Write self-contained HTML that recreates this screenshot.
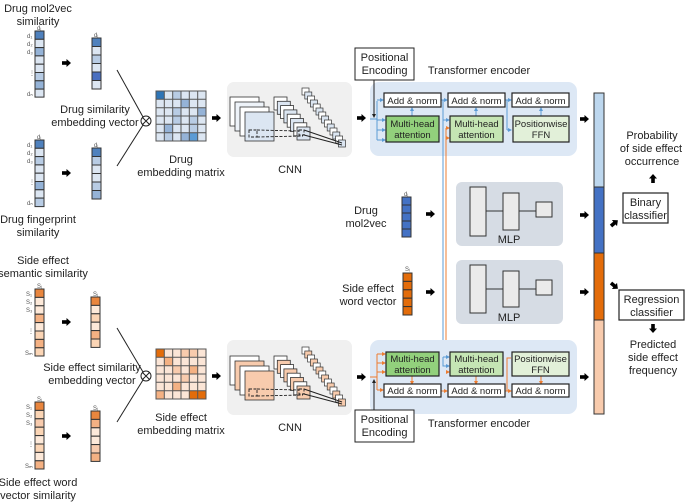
<!DOCTYPE html>
<html><head><meta charset="utf-8"><style>
html,body{margin:0;padding:0;background:#fff}
svg{display:block}
text{font-family:"Liberation Sans",Arial,sans-serif;fill:#222}
.t{font-size:11px;text-anchor:middle}
.s{font-size:9.5px;text-anchor:middle}
.l{font-size:6px;fill:#555}
</style></head><body>
<svg width="685" height="502" viewBox="0 0 685 502" xmlns="http://www.w3.org/2000/svg">
<defs>
<marker id="ab" markerWidth="4" markerHeight="4" refX="3" refY="2" orient="auto"><path d="M0,0L4,2L0,4z" fill="#5b9bd5"/></marker>
<marker id="ao" markerWidth="4" markerHeight="4" refX="3" refY="2" orient="auto"><path d="M0,0L4,2L0,4z" fill="#ed7d31"/></marker>
<marker id="ak" markerWidth="4" markerHeight="4" refX="3" refY="2" orient="auto"><path d="M0,0L4,2L0,4z" fill="#222"/></marker>
<g id="arr"><rect x="0" y="-1.8" width="5" height="3.6" fill="#000"/><path d="M4.5,-4L9,0L4.5,4z" fill="#000"/></g>
</defs>

<!-- ===== TOP LEFT (drug) ===== -->
<text class="t" x="38" y="12">Drug mol2vec</text>
<text class="t" x="38" y="25">similarity</text>
<text class="l" x="37" y="30">dᵢ</text>
<g stroke="#333" stroke-width="1">
<rect x="35" y="31" width="9" height="8.3" fill="#4f81bd"/><rect x="35" y="39.3" width="9" height="8.3" fill="#dce6f2"/>
<rect x="35" y="47.6" width="9" height="8.3" fill="#95b3d7"/><rect x="35" y="55.9" width="9" height="8.3" fill="#dce6f2"/>
<rect x="35" y="64.2" width="9" height="8.3" fill="#dce6f2"/><rect x="35" y="72.5" width="9" height="8.3" fill="#b8cce4"/>
<rect x="35" y="80.8" width="9" height="8.3" fill="#95b3d7"/><rect x="35" y="89.1" width="9" height="8" fill="#dce6f2"/>
</g>
<text class="l" x="27" y="38">d₁</text><text class="l" x="27" y="46">d₂</text><text class="l" x="27" y="54">d₃</text><text class="l" x="29" y="75">⋮</text><text class="l" x="27" y="96">dₙ</text>
<use href="#arr" x="62" y="63"/>
<text class="l" x="94" y="37">dᵢ</text>
<g stroke="#333" stroke-width="1">
<rect x="92" y="38" width="9" height="8.5" fill="#4f81bd"/><rect x="92" y="46.5" width="9" height="8.5" fill="#dce6f2"/>
<rect x="92" y="55" width="9" height="8.5" fill="#b8cce4"/><rect x="92" y="63.5" width="9" height="8.5" fill="#dce6f2"/>
<rect x="92" y="72" width="9" height="8.5" fill="#4a6fc0"/><rect x="92" y="80.5" width="9" height="8.5" fill="#dce6f2"/>
</g>
<line x1="117" y1="70" x2="143" y2="117" stroke="#222"/>
<line x1="117" y1="166" x2="143" y2="125" stroke="#222"/>
<circle cx="146" cy="121" r="5" fill="#fff" stroke="#222"/>
<path d="M142.5,117.5L149.5,124.5M149.5,117.5L142.5,124.5" stroke="#222"/>
<text class="t" x="95" y="113">Drug similarity</text>
<text class="t" x="95" y="126">embedding vector</text>

<text class="l" x="37" y="139">dᵢ</text>
<g stroke="#333" stroke-width="1">
<rect x="35" y="140" width="9" height="8.3" fill="#4f81bd"/><rect x="35" y="148.3" width="9" height="8.3" fill="#dce6f2"/>
<rect x="35" y="156.6" width="9" height="8.3" fill="#b8cce4"/><rect x="35" y="164.9" width="9" height="8.3" fill="#dce6f2"/>
<rect x="35" y="173.2" width="9" height="8.3" fill="#dce6f2"/><rect x="35" y="181.5" width="9" height="8.3" fill="#95b3d7"/>
<rect x="35" y="189.8" width="9" height="8.3" fill="#dce6f2"/><rect x="35" y="198.1" width="9" height="8.5" fill="#b8cce4"/>
</g>
<text class="l" x="27" y="147">d₁</text><text class="l" x="27" y="155">d₂</text><text class="l" x="27" y="163">d₃</text><text class="l" x="29" y="184">⋮</text><text class="l" x="27" y="205">dₙ</text>
<use href="#arr" x="62" y="173"/>
<text class="l" x="94" y="147">dᵢ</text>
<g stroke="#333" stroke-width="1">
<rect x="92" y="148" width="9" height="8.5" fill="#4f81bd"/><rect x="92" y="156.5" width="9" height="8.5" fill="#b8cce4"/>
<rect x="92" y="165" width="9" height="8.5" fill="#dce6f2"/><rect x="92" y="173.5" width="9" height="8.5" fill="#dce6f2"/>
<rect x="92" y="182" width="9" height="8.5" fill="#b8cce4"/><rect x="92" y="190.5" width="9" height="8.5" fill="#95b3d7"/>
</g>
<text class="t" x="38" y="223">Drug fingerprint</text>
<text class="t" x="38" y="236">similarity</text>

<!-- drug matrix -->
<rect x="156" y="91" width="50" height="50" fill="#dce6f2"/>
<g>
<rect x="156" y="91" width="8.33" height="8.33" fill="#2e75b6"/>
<rect x="172.7" y="91" width="8.33" height="8.33" fill="#b8cce4"/>
<rect x="181" y="99.3" width="8.33" height="8.33" fill="#95b3d7"/>
<rect x="172.7" y="107.7" width="8.33" height="8.33" fill="#b8cce4"/>
<rect x="197.7" y="107.7" width="8.33" height="8.33" fill="#95b3d7"/>
<rect x="172.7" y="116" width="8.33" height="8.33" fill="#b8cce4"/>
<rect x="189.3" y="116" width="8.33" height="8.33" fill="#b8cce4"/>
<rect x="164.3" y="124.3" width="8.33" height="8.33" fill="#95b3d7"/>
<rect x="189.3" y="124.3" width="8.33" height="8.33" fill="#b8cce4"/>
<rect x="181" y="132.7" width="8.33" height="8.33" fill="#95b3d7"/>
<rect x="189.3" y="132.7" width="8.33" height="8.33" fill="#5b9bd5"/>
<rect x="164.3" y="132.7" width="8.33" height="8.33" fill="#b8cce4"/>
</g>
<path d="M164.3,91V141M172.7,91V141M181,91V141M189.3,91V141M197.7,91V141M156,99.3H206M156,107.7H206M156,116H206M156,124.3H206M156,132.7H206" stroke="#555" stroke-width="1"/>
<rect x="156" y="91" width="50" height="50" fill="none" stroke="#555"/>
<text class="t" x="181" y="163">Drug</text>
<text class="t" x="181" y="176">embedding matrix</text>
<use href="#arr" x="212" y="118"/>

<!-- CNN top -->
<rect x="227" y="82" width="125" height="75" rx="7" fill="#f0f0f0"/>
<g stroke="#333" stroke-width="0.8">
<rect x="230" y="97" width="29" height="29" fill="#fff"/>
<rect x="235" y="102" width="29" height="29" fill="#eef3f9"/>
<rect x="240" y="107" width="29" height="29" fill="#fff"/>
<rect x="245" y="112" width="29" height="29" fill="#dce6f2"/>
<rect x="274" y="97" width="13" height="13" fill="#fff"/>
<rect x="277.3" y="101.3" width="13" height="13" fill="#dce6f2"/>
<rect x="280.6" y="105.6" width="13" height="13" fill="#fff"/>
<rect x="283.9" y="109.9" width="13" height="13" fill="#dce6f2"/>
<rect x="287.2" y="114.2" width="13" height="13" fill="#fff"/>
<rect x="290.5" y="118.5" width="13" height="13" fill="#dce6f2"/>
<rect x="293.8" y="122.8" width="13" height="13" fill="#fff"/>
<rect x="297" y="127" width="13" height="13" fill="#dce6f2"/>
</g>
<g stroke="#333" stroke-width="0.7">
<rect x="302" y="88" width="7" height="7" fill="#fff"/><rect x="304.8" y="92" width="7" height="7" fill="#dce6f2"/>
<rect x="307.6" y="96" width="7" height="7" fill="#fff"/><rect x="310.4" y="100" width="7" height="7" fill="#dce6f2"/>
<rect x="313.2" y="104" width="7" height="7" fill="#fff"/><rect x="316" y="108" width="7" height="7" fill="#dce6f2"/>
<rect x="318.8" y="112" width="7" height="7" fill="#fff"/><rect x="321.6" y="116" width="7" height="7" fill="#dce6f2"/>
<rect x="324.4" y="120" width="7" height="7" fill="#fff"/><rect x="327.2" y="124" width="7" height="7" fill="#dce6f2"/>
<rect x="330" y="128" width="7" height="7" fill="#fff"/><rect x="332.8" y="132" width="7" height="7" fill="#dce6f2"/>
<rect x="335.6" y="136" width="7" height="7" fill="#fff"/><rect x="338.4" y="140" width="7" height="7" fill="#dce6f2"/>
</g>
<g stroke="#222" stroke-width="0.9" stroke-dasharray="3,1.5" fill="none">
<rect x="249" y="130" width="8" height="7"/>
<line x1="257" y1="130" x2="299" y2="131"/><line x1="257" y1="137" x2="303" y2="136"/>
<rect x="299" y="130" width="5" height="5"/>
</g>
<line x1="304" y1="130" x2="342" y2="143" stroke="#222"/><line x1="304" y1="135" x2="342" y2="145" stroke="#222"/>
<text class="t" x="290" y="173">CNN</text>
<use href="#arr" x="357" y="118"/>

<!-- Transformer top -->
<rect x="370" y="82" width="207" height="74" rx="9" fill="#dde8f5"/>
<rect x="355" y="48" width="59" height="32" fill="#fff" stroke="#222"/>
<text class="t" x="384.5" y="61">Positional</text>
<text class="t" x="384.5" y="74">Encoding</text>
<text class="t" x="479" y="74">Transformer encoder</text>
<line x1="374" y1="80" x2="374" y2="117" stroke="#222" marker-end="url(#ak)"/>
<g stroke="#5b9bd5" stroke-width="1" fill="none">
<path d="M370,119H377V140"/><path d="M377,101V119"/>
<line x1="377" y1="100" x2="383" y2="100" marker-end="url(#ab)"/>
<line x1="377" y1="120" x2="385" y2="120" marker-end="url(#ab)"/>
<line x1="377" y1="130" x2="385" y2="130" marker-end="url(#ab)"/>
<line x1="377" y1="140" x2="385" y2="140" marker-end="url(#ab)"/>
<line x1="412" y1="116" x2="412" y2="108" marker-end="url(#ab)"/>
<line x1="476" y1="116" x2="476" y2="108" marker-end="url(#ab)"/>
<line x1="541" y1="116" x2="541" y2="108" marker-end="url(#ab)"/>
<path d="M441,100H443V136"/><line x1="443" y1="100" x2="447" y2="100" marker-end="url(#ab)"/>
<line x1="443" y1="120" x2="449" y2="120" marker-end="url(#ab)"/>
<path d="M505,100H507V130"/><line x1="507" y1="100" x2="511" y2="100" marker-end="url(#ab)"/>
<line x1="507" y1="130" x2="511" y2="130" marker-end="url(#ab)"/>
<line x1="443" y1="136" x2="443" y2="357"/>
</g>
<g stroke="#ed7d31" stroke-width="1" fill="none">
<path d="M446,128V380"/>
<line x1="446" y1="128" x2="449" y2="128" marker-end="url(#ao)"/>
<line x1="446" y1="138" x2="449" y2="138" marker-end="url(#ao)"/>
</g>
<g stroke="#222" stroke-width="1.2">
<rect x="384" y="93" width="57" height="14" fill="#fff"/>
<rect x="448" y="93" width="57" height="14" fill="#fff"/>
<rect x="512" y="93" width="57" height="14" fill="#fff"/>
<rect x="386" y="116" width="53" height="26" fill="#92d07c"/>
<rect x="450" y="116" width="53" height="26" fill="#c5e5b4"/>
<rect x="513" y="116" width="56" height="26" fill="#e2f0d9"/>
</g>
<g class="s"><text class="s" x="412.5" y="104">Add &amp; norm</text><text class="s" x="476.5" y="104">Add &amp; norm</text><text class="s" x="540.5" y="104">Add &amp; norm</text>
<text class="s" x="412.5" y="127">Multi-head</text><text class="s" x="412.5" y="138">attention</text>
<text class="s" x="476.5" y="127">Multi-head</text><text class="s" x="476.5" y="138">attention</text>
<text class="s" x="541" y="127">Positionwise</text><text class="s" x="541" y="138">FFN</text></g>
<use href="#arr" x="580" y="119"/>

<!-- Middle -->
<text class="t" x="366" y="214">Drug</text>
<text class="t" x="366" y="227">mol2vec</text>
<text class="l" x="404" y="196">dᵢ</text>
<g stroke="#333"><rect x="402" y="197" width="9" height="8" fill="#4472c4"/><rect x="402" y="205" width="9" height="8" fill="#4472c4"/><rect x="402" y="213" width="9" height="8" fill="#4472c4"/><rect x="402" y="221" width="9" height="8" fill="#4472c4"/><rect x="402" y="229" width="9" height="8" fill="#4472c4"/></g>
<use href="#arr" x="426" y="214"/>
<rect x="456" y="182" width="107" height="64" rx="6" fill="#d6dce4"/>
<g stroke="#333" fill="#eaeaea"><rect x="470" y="187" width="16" height="49"/><rect x="503" y="193" width="16" height="37"/><rect x="536" y="202" width="16" height="15"/></g>
<path d="M486,211H503M519,211H536" stroke="#333"/>
<text class="t" x="509" y="243">MLP</text>
<use href="#arr" x="580" y="215"/>

<text class="t" x="368" y="292">Side effect</text>
<text class="t" x="368" y="305">word vector</text>
<text class="l" x="405" y="271">Sᵢ</text>
<g stroke="#333"><rect x="403" y="273" width="9" height="8.4" fill="#e36c0a"/><rect x="403" y="281.4" width="9" height="8.4" fill="#e36c0a"/><rect x="403" y="289.8" width="9" height="8.4" fill="#e36c0a"/><rect x="403" y="298.2" width="9" height="8.4" fill="#e36c0a"/><rect x="403" y="306.6" width="9" height="8.4" fill="#e36c0a"/></g>
<use href="#arr" x="426" y="292"/>
<rect x="456" y="260" width="107" height="64" rx="6" fill="#d6dce4"/>
<g stroke="#333" fill="#eaeaea"><rect x="470" y="265" width="16" height="48"/><rect x="503" y="271" width="16" height="36"/><rect x="536" y="280" width="16" height="15"/></g>
<path d="M486,289H503M519,289H536" stroke="#333"/>
<text class="t" x="509" y="321">MLP</text>
<use href="#arr" x="580" y="292"/>

<!-- Tall bar -->
<rect x="594" y="93" width="10" height="94" fill="#bdd7ee" stroke="#333"/>
<rect x="594" y="187" width="10" height="66" fill="#4472c4" stroke="#333"/>
<rect x="594" y="253" width="10" height="67" fill="#e36c0a" stroke="#333"/>
<rect x="594" y="320" width="10" height="94" fill="#f8cbad" stroke="#333"/>

<text class="t" x="652" y="139">Probability</text>
<text class="t" x="651" y="152">of side effect</text>
<text class="t" x="652" y="165">occurrence</text>
<use href="#arr" transform="translate(653,183) rotate(-90)"/>
<rect x="623" y="193" width="45" height="30" fill="#fff" stroke="#222" stroke-width="1.2"/>
<text class="t" x="645.5" y="206">Binary</text>
<text class="t" x="645.5" y="219">classifier</text>
<use href="#arr" transform="translate(611,226) rotate(-40)"/>
<use href="#arr" transform="translate(611,283) rotate(40)"/>
<rect x="619" y="290" width="65" height="30" fill="#fff" stroke="#222" stroke-width="1.2"/>
<text class="t" x="651.5" y="303">Regression</text>
<text class="t" x="651.5" y="316">classifier</text>
<use href="#arr" transform="translate(653,324) rotate(90)"/>
<text class="t" x="653" y="348">Predicted</text>
<text class="t" x="653" y="361">side effect</text>
<text class="t" x="653" y="374">frequency</text>

<!-- ===== BOTTOM LEFT (side effect) ===== -->
<text class="t" x="43" y="264">Side effect</text>
<text class="t" x="43" y="277">semantic similarity</text>
<text class="l" x="37" y="288">Sᵢ</text>
<g stroke="#333">
<rect x="35" y="289" width="9" height="8.4" fill="#e9863e"/><rect x="35" y="297.4" width="9" height="8.4" fill="#fde9d9"/>
<rect x="35" y="305.8" width="9" height="8.4" fill="#fde9d9"/><rect x="35" y="314.2" width="9" height="8.4" fill="#f4b183"/>
<rect x="35" y="322.6" width="9" height="8.4" fill="#fde9d9"/><rect x="35" y="331" width="9" height="8.4" fill="#fbd5b5"/>
<rect x="35" y="339.4" width="9" height="8.4" fill="#f4b183"/><rect x="35" y="347.8" width="9" height="8.2" fill="#fbd5b5"/>
</g>
<text class="l" x="26" y="296">S₁</text><text class="l" x="26" y="304">S₂</text><text class="l" x="26" y="312">S₃</text><text class="l" x="28" y="333">⋮</text><text class="l" x="25" y="355">Sₘ</text>
<use href="#arr" x="62" y="322"/>
<text class="l" x="93" y="296">Sᵢ</text>
<g stroke="#333">
<rect x="91" y="297" width="9" height="8.4" fill="#e9863e"/><rect x="91" y="305.4" width="9" height="8.4" fill="#fde9d9"/>
<rect x="91" y="313.8" width="9" height="8.4" fill="#fbd5b5"/><rect x="91" y="322.2" width="9" height="8.4" fill="#fde9d9"/>
<rect x="91" y="330.6" width="9" height="8.4" fill="#f4b183"/><rect x="91" y="339" width="9" height="8.4" fill="#fbd5b5"/>
</g>
<line x1="117" y1="328" x2="143" y2="372" stroke="#222"/>
<line x1="117" y1="422" x2="143" y2="380" stroke="#222"/>
<circle cx="146" cy="376" r="5" fill="#fff" stroke="#222"/>
<path d="M142.5,372.5L149.5,379.5M149.5,372.5L142.5,379.5" stroke="#222"/>
<text class="t" x="92" y="371">Side effect similarity</text>
<text class="t" x="92" y="384">embedding vector</text>

<text class="l" x="37" y="401">Sᵢ</text>
<g stroke="#333">
<rect x="35" y="402" width="9" height="8.4" fill="#e9863e"/><rect x="35" y="410.4" width="9" height="8.4" fill="#fbd5b5"/>
<rect x="35" y="418.8" width="9" height="8.4" fill="#f8cbad"/><rect x="35" y="427.2" width="9" height="8.4" fill="#fbd5b5"/>
<rect x="35" y="435.6" width="9" height="8.4" fill="#fde9d9"/><rect x="35" y="444" width="9" height="8.4" fill="#fbd5b5"/>
<rect x="35" y="452.4" width="9" height="8.4" fill="#fde9d9"/><rect x="35" y="460.8" width="9" height="8.2" fill="#f4b183"/>
</g>
<text class="l" x="26" y="409">S₁</text><text class="l" x="26" y="417">S₂</text><text class="l" x="26" y="425">S₃</text><text class="l" x="28" y="446">⋮</text><text class="l" x="25" y="468">Sₘ</text>
<use href="#arr" x="62" y="436"/>
<text class="l" x="93" y="410">Sᵢ</text>
<g stroke="#333">
<rect x="91" y="411" width="9" height="8.4" fill="#e9863e"/><rect x="91" y="419.4" width="9" height="8.4" fill="#f4b183"/>
<rect x="91" y="427.8" width="9" height="8.4" fill="#fde9d9"/><rect x="91" y="436.2" width="9" height="8.4" fill="#fde9d9"/>
<rect x="91" y="444.6" width="9" height="8.4" fill="#f8cbad"/><rect x="91" y="453" width="9" height="8.4" fill="#f4b183"/>
</g>
<text class="t" x="38" y="486">Side effect word</text>
<text class="t" x="38" y="499">vector similarity</text>

<!-- SE matrix -->
<rect x="156" y="349" width="50" height="50" fill="#fbe5d6"/>
<rect x="156" y="349" width="8.33" height="8.33" fill="#e36c0a"/>
<rect x="164.3" y="357.3" width="8.33" height="8.33" fill="#f4b183"/>
<rect x="181" y="349" width="8.33" height="8.33" fill="#f8cbad"/>
<rect x="189.3" y="349" width="8.33" height="8.33" fill="#f8cbad"/>
<rect x="172.7" y="365.7" width="8.33" height="8.33" fill="#f8cbad"/>
<rect x="189.3" y="365.7" width="8.33" height="8.33" fill="#f4b183"/>
<rect x="181" y="374" width="8.33" height="8.33" fill="#f8cbad"/>
<rect x="172.7" y="382.3" width="8.33" height="8.33" fill="#f4b183"/>
<rect x="156" y="390.7" width="8.33" height="8.33" fill="#f4b183"/>
<rect x="189.3" y="390.7" width="8.33" height="8.33" fill="#e36c0a"/>
<rect x="197.7" y="390.7" width="8.33" height="8.33" fill="#e36c0a"/>
<path d="M164.3,349V399M172.7,349V399M181,349V399M189.3,349V399M197.7,349V399M156,357.3H206M156,365.7H206M156,374H206M156,382.3H206M156,390.7H206" stroke="#555"/>
<rect x="156" y="349" width="50" height="50" fill="none" stroke="#555"/>
<text class="t" x="181" y="421">Side effect</text>
<text class="t" x="181" y="434">embedding matrix</text>
<use href="#arr" x="212" y="376"/>

<!-- CNN bottom -->
<rect x="227" y="340" width="125" height="75" rx="7" fill="#f0f0f0"/>
<g stroke="#333" stroke-width="0.8">
<rect x="230" y="356" width="29" height="29" fill="#fff"/>
<rect x="235" y="361" width="29" height="29" fill="#f8cbad"/>
<rect x="240" y="366" width="29" height="29" fill="#fff"/>
<rect x="245" y="371" width="29" height="29" fill="#f8cbad"/>
<rect x="274" y="356" width="13" height="13" fill="#fff"/>
<rect x="277.3" y="360.3" width="13" height="13" fill="#f8cbad"/>
<rect x="280.6" y="364.6" width="13" height="13" fill="#fff"/>
<rect x="283.9" y="368.9" width="13" height="13" fill="#f8cbad"/>
<rect x="287.2" y="373.2" width="13" height="13" fill="#fff"/>
<rect x="290.5" y="377.5" width="13" height="13" fill="#f8cbad"/>
<rect x="293.8" y="381.8" width="13" height="13" fill="#fff"/>
<rect x="297" y="386" width="13" height="13" fill="#f8cbad"/>
</g>
<g stroke="#333" stroke-width="0.7">
<rect x="302" y="347" width="7" height="7" fill="#fff"/><rect x="304.8" y="351" width="7" height="7" fill="#f8cbad"/>
<rect x="307.6" y="355" width="7" height="7" fill="#fff"/><rect x="310.4" y="359" width="7" height="7" fill="#f8cbad"/>
<rect x="313.2" y="363" width="7" height="7" fill="#fff"/><rect x="316" y="367" width="7" height="7" fill="#f8cbad"/>
<rect x="318.8" y="371" width="7" height="7" fill="#fff"/><rect x="321.6" y="375" width="7" height="7" fill="#f8cbad"/>
<rect x="324.4" y="379" width="7" height="7" fill="#fff"/><rect x="327.2" y="383" width="7" height="7" fill="#f8cbad"/>
<rect x="330" y="387" width="7" height="7" fill="#fff"/><rect x="332.8" y="391" width="7" height="7" fill="#f8cbad"/>
<rect x="335.6" y="395" width="7" height="7" fill="#fff"/><rect x="338.4" y="399" width="7" height="7" fill="#f8cbad"/>
</g>
<g stroke="#222" stroke-width="0.9" stroke-dasharray="3,1.5" fill="none">
<rect x="249" y="389" width="8" height="7"/>
<line x1="257" y1="389" x2="299" y2="390"/><line x1="257" y1="396" x2="303" y2="395"/>
<rect x="299" y="389" width="5" height="5"/>
</g>
<line x1="304" y1="389" x2="342" y2="402" stroke="#222"/><line x1="304" y1="394" x2="342" y2="404" stroke="#222"/>
<text class="t" x="290" y="431">CNN</text>
<use href="#arr" x="357" y="377"/>

<!-- Transformer bottom -->
<rect x="370" y="340" width="207" height="74" rx="9" fill="#dde8f5"/>
<rect x="355" y="410" width="59" height="32" fill="#fff" stroke="#222"/>
<text class="t" x="384.5" y="423">Positional</text>
<text class="t" x="384.5" y="436">Encoding</text>
<text class="t" x="479" y="427">Transformer encoder</text>
<line x1="374" y1="410" x2="374" y2="380" stroke="#222" marker-end="url(#ak)"/>
<g stroke="#ed7d31" stroke-width="1" fill="none">
<path d="M370,377H377V390"/><path d="M377,354V377"/>
<line x1="377" y1="354" x2="385" y2="354" marker-end="url(#ao)"/>
<line x1="377" y1="363" x2="385" y2="363" marker-end="url(#ao)"/>
<line x1="377" y1="372" x2="385" y2="372" marker-end="url(#ao)"/>
<line x1="377" y1="390" x2="383" y2="390" marker-end="url(#ao)"/>
<line x1="412" y1="376" x2="412" y2="384" marker-end="url(#ao)"/>
<line x1="476" y1="376" x2="476" y2="384" marker-end="url(#ao)"/>
<line x1="541" y1="376" x2="541" y2="384" marker-end="url(#ao)"/>
<path d="M441,391H446"/><line x1="446" y1="372" x2="449" y2="372" marker-end="url(#ao)"/>
<line x1="446" y1="391" x2="447" y2="391" marker-end="url(#ao)"/>
<path d="M505,391H507V358H511"/><line x1="507" y1="391" x2="511" y2="391" marker-end="url(#ao)"/>
</g>
<g stroke="#5b9bd5" fill="none"><line x1="443" y1="357" x2="449" y2="357" marker-end="url(#ab)"/><path d="M443,357V366H449" marker-end="url(#ab)"/></g>
<g stroke="#222" stroke-width="1.2">
<rect x="386" y="352" width="53" height="24" fill="#92d07c"/>
<rect x="450" y="352" width="53" height="24" fill="#c5e5b4"/>
<rect x="512" y="352" width="57" height="24" fill="#e2f0d9"/>
<rect x="384" y="384" width="57" height="13" fill="#fff"/>
<rect x="448" y="384" width="57" height="13" fill="#fff"/>
<rect x="512" y="384" width="57" height="13" fill="#fff"/>
</g>
<text class="s" x="412.5" y="362">Multi-head</text><text class="s" x="412.5" y="373">attention</text>
<text class="s" x="476.5" y="362">Multi-head</text><text class="s" x="476.5" y="373">attention</text>
<text class="s" x="540.5" y="362">Positionwise</text><text class="s" x="540.5" y="373">FFN</text>
<text class="s" x="412.5" y="394">Add &amp; norm</text><text class="s" x="476.5" y="394">Add &amp; norm</text><text class="s" x="540.5" y="394">Add &amp; norm</text>
<use href="#arr" x="580" y="377"/>
</svg>
</body></html>
